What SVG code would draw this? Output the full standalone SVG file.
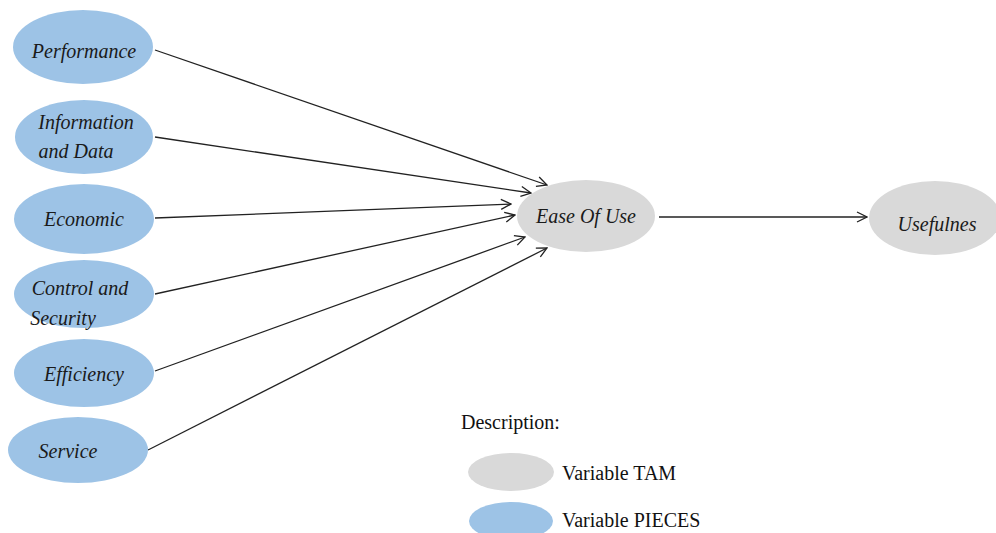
<svg xmlns="http://www.w3.org/2000/svg" width="996" height="533" viewBox="0 0 996 533">
<defs>
<style>
.pieces{fill:#9DC3E6;}
.tam{fill:#D9D9D9;}
.lbl{font-family:"Liberation Serif","DejaVu Serif",serif;font-style:italic;font-size:20px;fill:#1a1a1a;text-anchor:middle;}
.leg{font-family:"Liberation Serif","DejaVu Serif",serif;font-size:20px;fill:#111;}
.conn{stroke:#222;stroke-width:1.3;fill:none;marker-end:url(#arr);}
</style>
<marker id="arr" viewBox="0 0 12 12" refX="11" refY="6" markerWidth="12" markerHeight="12" markerUnits="userSpaceOnUse" orient="auto">
<polyline points="1,1 11,6 1,11" fill="none" stroke="#222" stroke-width="1.3"/>
</marker>
</defs>
<rect width="996" height="533" fill="#ffffff"/>
<g id="connectors">
<line class="conn" x1="155" y1="50" x2="547" y2="185"/>
<line class="conn" x1="155" y1="137" x2="531" y2="193"/>
<line class="conn" x1="155" y1="218" x2="511" y2="204"/>
<line class="conn" x1="155" y1="294" x2="515" y2="215"/>
<line class="conn" x1="155" y1="371" x2="525" y2="237"/>
<line class="conn" x1="148" y1="450" x2="547" y2="248"/>
<line class="conn" x1="659" y1="217" x2="867" y2="217"/>
</g>
<g id="performance"><ellipse class="pieces" cx="83" cy="47" rx="70" ry="37"/><text class="lbl" x="84" y="58">Performance</text></g>
<g id="information"><ellipse class="pieces" cx="84" cy="137" rx="69" ry="37"/><text class="lbl" x="86" y="129">Information</text><text class="lbl" x="76" y="158">and Data</text></g>
<g id="economic"><ellipse class="pieces" cx="84" cy="219" rx="70" ry="35"/><text class="lbl" x="84" y="226">Economic</text></g>
<g id="control"><ellipse class="pieces" cx="84" cy="294" rx="70" ry="34"/><text class="lbl" x="80" y="295">Control and</text><text class="lbl" x="63" y="325">Security</text></g>
<g id="efficiency"><ellipse class="pieces" cx="84" cy="373" rx="70" ry="34"/><text class="lbl" x="84" y="381">Efficiency</text></g>
<g id="service"><ellipse class="pieces" cx="78" cy="450" rx="70" ry="33"/><text class="lbl" x="68" y="458">Service</text></g>
<g id="ease"><ellipse class="tam" cx="586" cy="216" rx="69" ry="36"/><text class="lbl" x="586" y="223">Ease Of Use</text></g>
<g id="usefulnes"><ellipse class="tam" cx="935" cy="218" rx="66" ry="37"/><text class="lbl" x="937" y="231">Usefulnes</text></g>
<g id="legend">
<text class="leg" x="461" y="429">Description:</text>
<ellipse class="tam" cx="511" cy="472" rx="43" ry="19"/>
<text class="leg" x="562" y="480">Variable TAM</text>
<ellipse class="pieces" cx="511" cy="521" rx="42" ry="19"/>
<text class="leg" x="562" y="527">Variable PIECES</text>
</g>
</svg>
